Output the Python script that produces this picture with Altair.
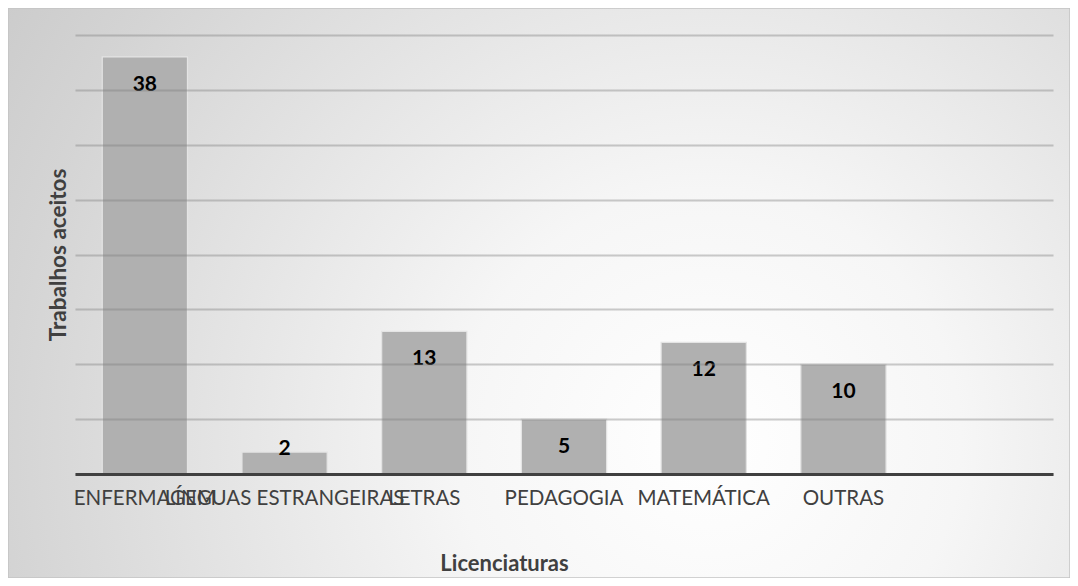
import altair as alt
import pandas as pd

categorias = ["ENFERMAGEM", "LÍNGUAS ESTRANGEIRAS", "LETRAS", "PEDAGOGIA", "MATEMÁTICA", "OUTRAS"]
trabalhos = [38, 2, 13, 5, 12, 10]
dominio_x = categorias + [" "]
ticks_y = [0, 5, 10, 15, 20, 25, 30, 35, 40]

df = pd.DataFrame({"categoria": categorias, "valor": trabalhos})

W, H = 978, 439
PAD = {"left": 67, "top": 27, "right": 17, "bottom": 104}
FONT = "Lato"

x_enc = alt.X(
    "categoria:N",
    sort=dominio_x,
    scale=alt.Scale(domain=dominio_x, paddingInner=0.39, paddingOuter=0.195),
    axis=alt.Axis(
        title="Licenciaturas",
        labelAngle=0,
        labelOverlap=False,
        labelLimit=400,
        labelFont=FONT,
        labelFontSize=20.5,
        labelColor="#404040",
        labelPadding=14,
        ticks=False,
        domainColor="#404040",
        domainWidth=3,
        titleFont=FONT,
        titleFontSize=22,
        titleFontWeight="bold",
        titleColor="#404040",
        titleX=429,
        titleY=89,
        titleAnchor="start",
        titleAlign="center",
        titleBaseline="middle",
        zindex=1,
    ),
)
y_enc = alt.Y(
    "valor:Q",
    scale=alt.Scale(domain=[0, 40], nice=False),
    axis=alt.Axis(
        title="Trabalhos aceitos",
        values=ticks_y,
        labels=False,
        ticks=False,
        domain=False,
        gridColor="#808080",
        gridOpacity=0.4,
        gridWidth=2,
        titleFont=FONT,
        titleFontSize=22.5,
        titleFontWeight="bold",
        titleColor="#404040",
        titleX=-17,
        titleY=H / 2,
        titleAngle=-90,
        titleAlign="center",
        titleBaseline="middle",
        zindex=1,
    ),
)

fundo = alt.Chart(alt.Data(values=[{}])).mark_rect(
    fill={
        "gradient": "radial",
        "x1": 0.66, "y1": 0.64, "r1": 0,
        "x2": 0.66, "y2": 0.64, "r2": 0.95,
        "stops": [
            {"offset": 0, "color": "#ffffff"},
            {"offset": 0.25, "color": "#f6f6f6"},
            {"offset": 0.7, "color": "#d4d4d4"},
            {"offset": 1, "color": "#c0c0c0"},
        ],
    },
    stroke="#c4c4c4",
    strokeWidth=1.5,
).encode(
    x=alt.value(-PAD["left"]),
    x2=alt.value(W + PAD["right"]),
    y=alt.value(-PAD["top"]),
    y2=alt.value(H + PAD["bottom"]),
)

base = alt.Chart(df).encode(x=x_enc, y=y_enc)

barras = base.mark_bar(color="#b0b0b0", stroke="#e4e4e4", strokeWidth=1.2)

rotulos = base.transform_filter("datum.valor >= 5").mark_text(
    dy=28, font=FONT, fontSize=21, fontWeight="bold", color="#000000", baseline="middle"
).encode(text="valor:Q")

rotulos_peq = base.transform_filter("datum.valor < 5").mark_text(
    dy=-3, font=FONT, fontSize=21, fontWeight="bold", color="#000000", baseline="middle"
).encode(text="valor:Q")

chart = alt.layer(fundo, barras, rotulos, rotulos_peq).properties(
    width=W,
    height=H,
    padding=PAD,
    autosize=alt.AutoSizeParams(type="none"),
).configure_view(stroke=None)

chart.save("out.html", embed_options={"renderer": "svg", "actions": False})
